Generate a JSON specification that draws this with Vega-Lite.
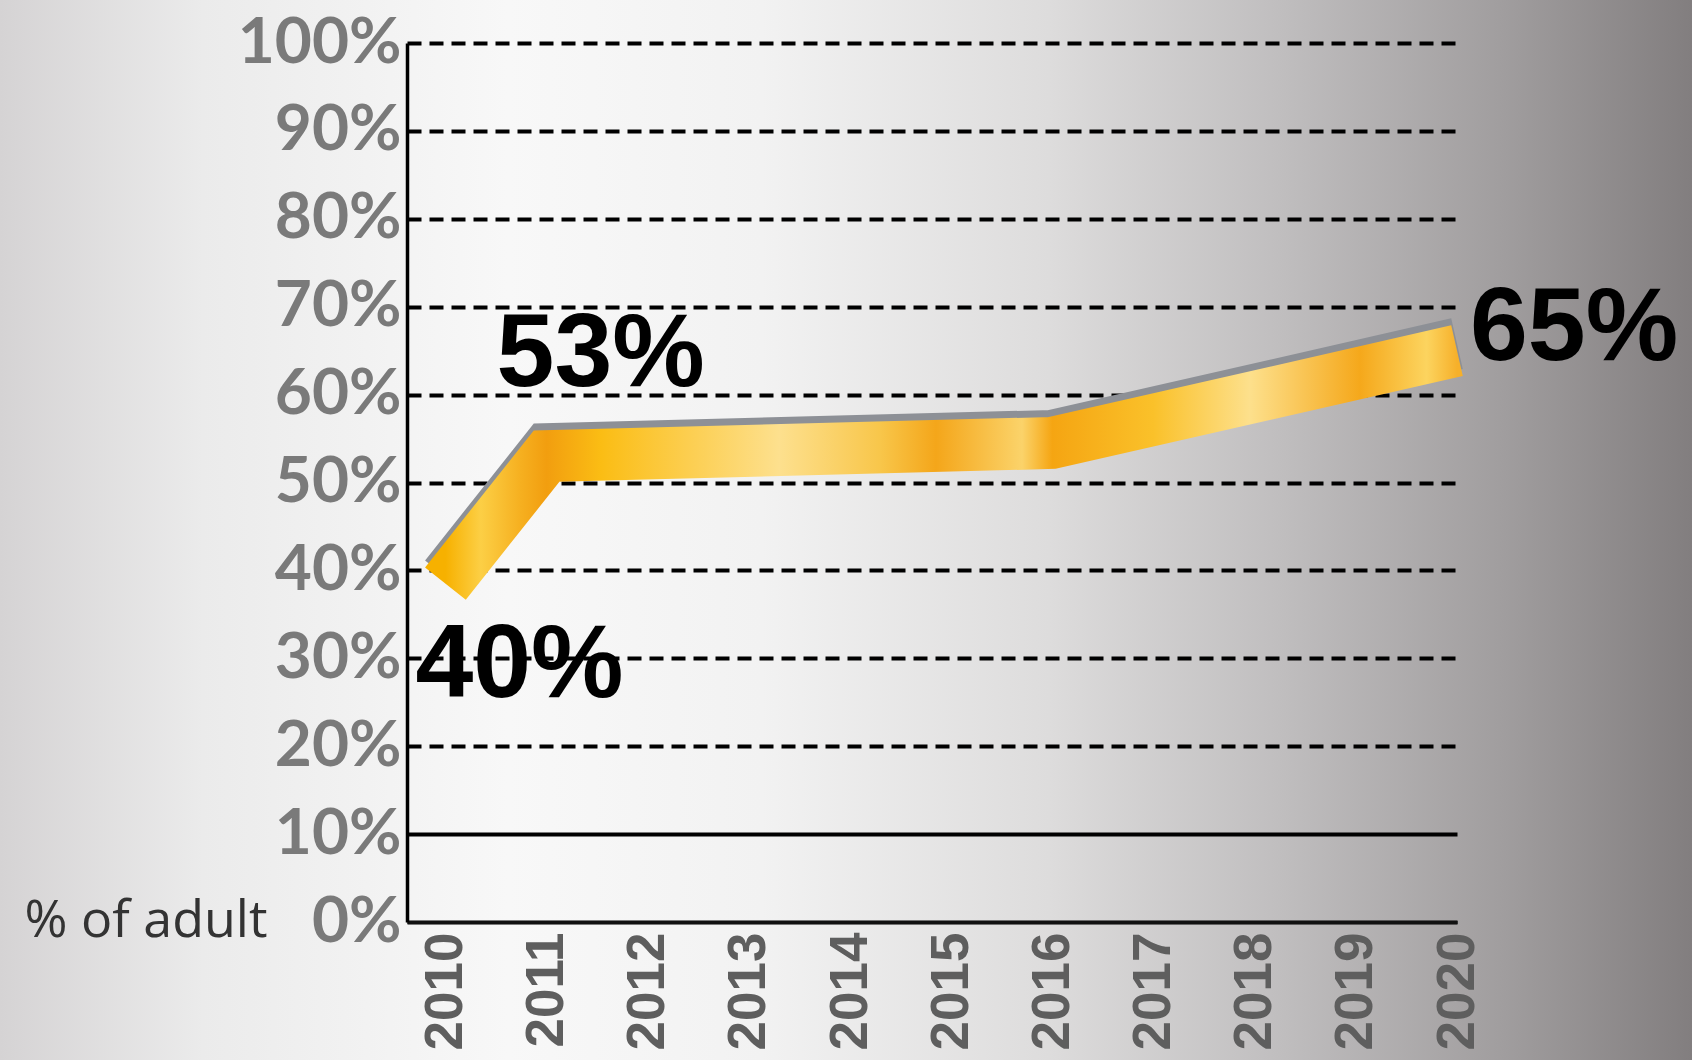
{
  "$schema": "https://vega.github.io/schema/vega-lite/v6.json",
  "width": 1692,
  "height": 1060,
  "padding": 0,
  "autosize": {"type": "none"},
  "background": "#cfcdce",
  "config": {
    "view": {
      "stroke": null,
      "fill": {
        "gradient": "linear",
        "x1": 0, "y1": 0, "x2": 1, "y2": 0,
        "stops": [
          {"offset": 0, "color": "#d5d3d4"},
          {"offset": 0.12, "color": "#ebebeb"},
          {"offset": 0.3, "color": "#f8f8f8"},
          {"offset": 0.45, "color": "#f2f2f2"},
          {"offset": 0.62, "color": "#dddcdc"},
          {"offset": 0.76, "color": "#bfbdbe"},
          {"offset": 0.89, "color": "#a09d9e"},
          {"offset": 1, "color": "#827e7f"}
        ]
      }
    }
  },
  "data": {
    "values": [
      {"year": 2010, "pct": 38.5, "label": "40%"},
      {"year": 2011, "pct": 53, "label": "53%"},
      {"year": 2016, "pct": 54.5, "label": ""},
      {"year": 2020, "pct": 65, "label": "65%"}
    ]
  },
  "encoding": {
    "x": {
      "field": "year",
      "type": "quantitative",
      "scale": {"domain": [2009.62, 2020], "range": [407, 1457], "zero": false, "nice": false},
      "axis": {
        "values": [2010, 2011, 2012, 2013, 2014, 2015, 2016, 2017, 2018, 2019, 2020],
        "offset": -138,
        "format": "d",
        "labelAngle": -90,
        "labelAlign": "right",
        "labelBaseline": "middle",
        "labelFont": "Liberation Sans",
        "labelFontSize": 53,
        "labelFontWeight": "bold",
        "labelColor": "#5e5e5e",
        "labelPadding": 10,
        "labelFlush": false,
        "labelOverlap": false,
        "ticks": false,
        "domain": true,
        "domainColor": "#111111",
        "domainWidth": 3,
        "grid": false,
        "title": null
      }
    },
    "y": {
      "field": "pct",
      "type": "quantitative",
      "scale": {"domain": [0, 100], "range": [922, 43], "zero": true, "nice": false},
      "axis": {
        "values": [0, 10, 20, 30, 40, 50, 60, 70, 80, 90, 100],
        "offset": -407,
        "labelExpr": "datum.value + '%'",
        "labelFont": "Lato",
        "labelFontSize": 64,
        "labelFontWeight": "bold",
        "labelColor": "#7a7a7a",
        "labelPadding": 6,
        "labelBaseline": "middle",
        "labelFlush": false,
        "labelOverlap": false,
        "ticks": false,
        "domain": true,
        "domainColor": "#000000",
        "domainWidth": 3.5,
        "grid": true,
        "gridColor": "#000000",
        "gridOpacity": 1,
        "gridWidth": 3.8,
        "gridDash": {"condition": {"test": "datum.value <= 10", "value": [400, 0]}, "value": [14, 8]},
        "title": "% of adult",
        "titleAngle": 0,
        "titleX": -140,
        "titleY": 936,
        "titleAlign": "right",
        "titleBaseline": "alphabetic",
        "titleFont": "Open Sans",
        "titleFontSize": 52,
        "titleFontWeight": "normal",
        "titleColor": "#333333"
      }
    }
  },
  "layer": [
    {
      "mark": {"type": "line", "stroke": "#8d9096", "strokeWidth": 52, "strokeCap": "butt", "strokeJoin": "miter", "yOffset": -7},
      "encoding": {}
    },
    {
      "mark": {
        "type": "line",
        "strokeWidth": 52,
        "strokeCap": "butt",
        "strokeJoin": "miter",
        "stroke": {
          "gradient": "linear",
          "x1": 0, "y1": 0, "x2": 1, "y2": 0,
          "stops": [
            {"offset": 0, "color": "#f7b100"},
            {"offset": 0.035, "color": "#fccf45"},
            {"offset": 0.074, "color": "#f6b020"},
            {"offset": 0.1, "color": "#f29e0f"},
            {"offset": 0.154, "color": "#fbbd14"},
            {"offset": 0.33, "color": "#fde08e"},
            {"offset": 0.43, "color": "#f8c64a"},
            {"offset": 0.485, "color": "#f4a61a"},
            {"offset": 0.57, "color": "#fbd36a"},
            {"offset": 0.6, "color": "#f5a512"},
            {"offset": 0.7, "color": "#fac12a"},
            {"offset": 0.795, "color": "#fde08c"},
            {"offset": 0.904, "color": "#f5a81b"},
            {"offset": 0.97, "color": "#fcd45f"},
            {"offset": 1, "color": "#f6b02a"}
          ]
        }
      },
      "encoding": {}
    },
    {
      "transform": [{"filter": "datum.year == 2010"}],
      "mark": {"type": "text", "font": "Liberation Sans", "fontWeight": "bold", "fontSize": 104, "align": "left", "baseline": "alphabetic", "dx": -30, "dy": 113, "color": "#000000"},
      "encoding": {"text": {"field": "label"}}
    },
    {
      "transform": [{"filter": "datum.year == 2011"}],
      "mark": {"type": "text", "font": "Liberation Sans", "fontWeight": "bold", "fontSize": 104, "align": "left", "baseline": "alphabetic", "dx": -50, "dy": -70, "color": "#000000"},
      "encoding": {"text": {"field": "label"}}
    },
    {
      "transform": [{"filter": "datum.year == 2020"}],
      "mark": {"type": "text", "font": "Liberation Sans", "fontWeight": "bold", "fontSize": 104, "align": "left", "baseline": "alphabetic", "dx": 13, "dy": 9, "color": "#000000"},
      "encoding": {"text": {"field": "label"}}
    }
  ]
}
